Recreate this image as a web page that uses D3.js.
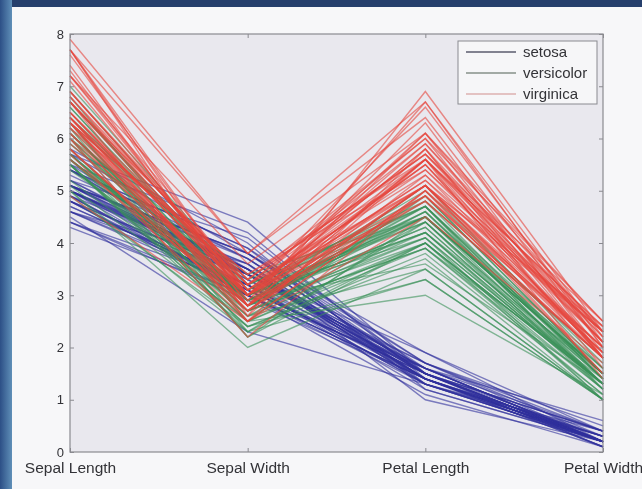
<!DOCTYPE html>
<html>
<head>
<meta charset="utf-8">
<script src="https://cdn.jsdelivr.net/npm/d3@7/dist/d3.min.js"></script>
<style>
  body { margin: 0; background: #f7f7f9; }
  svg { display: block; font-family: "Liberation Sans", Arial, sans-serif; }
</style>
</head>
<body>
<div id="chart"></div>
<script>

    // iris measurements: sepal length, sepal width, petal length, petal width
    var dimensions = ["Sepal Length", "Sepal Width", "Petal Length", "Petal Width"];
    var species = ["setosa", "versicolor", "virginica"];
    var yTicks = [0, 1, 2, 3, 4, 5, 6, 7, 8];

    var setosa = [
      [5.1,3.5,1.4,0.2],[4.9,3.0,1.4,0.2],[4.7,3.2,1.3,0.2],[4.6,3.1,1.5,0.2],[5.0,3.6,1.4,0.2],
      [5.4,3.9,1.7,0.4],[4.6,3.4,1.4,0.3],[5.0,3.4,1.5,0.2],[4.4,2.9,1.4,0.2],[4.9,3.1,1.5,0.1],
      [5.4,3.7,1.5,0.2],[4.8,3.4,1.6,0.2],[4.8,3.0,1.4,0.1],[4.3,3.0,1.1,0.1],[5.8,4.0,1.2,0.2],
      [5.7,4.4,1.5,0.4],[5.4,3.9,1.3,0.4],[5.1,3.5,1.4,0.3],[5.7,3.8,1.7,0.3],[5.1,3.8,1.5,0.3],
      [5.4,3.4,1.7,0.2],[5.1,3.7,1.5,0.4],[4.6,3.6,1.0,0.2],[5.1,3.3,1.7,0.5],[4.8,3.4,1.9,0.2],
      [5.0,3.0,1.6,0.2],[5.0,3.4,1.6,0.4],[5.2,3.5,1.5,0.2],[5.2,3.4,1.4,0.2],[4.7,3.2,1.6,0.2],
      [4.8,3.1,1.6,0.2],[5.4,3.4,1.5,0.4],[5.2,4.1,1.5,0.1],[5.5,4.2,1.4,0.2],[4.9,3.1,1.5,0.2],
      [5.0,3.2,1.2,0.2],[5.5,3.5,1.3,0.2],[4.9,3.6,1.4,0.1],[4.4,3.0,1.3,0.2],[5.1,3.4,1.5,0.2],
      [5.0,3.5,1.3,0.3],[4.5,2.3,1.3,0.3],[4.4,3.2,1.3,0.2],[5.0,3.5,1.6,0.6],[5.1,3.8,1.9,0.4],
      [4.8,3.0,1.4,0.3],[5.1,3.8,1.6,0.2],[4.6,3.2,1.4,0.2],[5.3,3.7,1.5,0.2],[5.0,3.3,1.4,0.2]
    ];

    var versicolor = [
      [7.0,3.2,4.7,1.4],[6.4,3.2,4.5,1.5],[6.9,3.1,4.9,1.5],[5.5,2.3,4.0,1.3],[6.5,2.8,4.6,1.5],
      [5.7,2.8,4.5,1.3],[6.3,3.3,4.7,1.6],[4.9,2.4,3.3,1.0],[6.6,2.9,4.6,1.3],[5.2,2.7,3.9,1.4],
      [5.0,2.0,3.5,1.0],[5.9,3.0,4.2,1.5],[6.0,2.2,4.0,1.0],[6.1,2.9,4.7,1.4],[5.6,2.9,3.6,1.3],
      [6.7,3.1,4.4,1.4],[5.6,3.0,4.5,1.5],[5.8,2.7,4.1,1.0],[6.2,2.2,4.5,1.5],[5.6,2.5,3.9,1.1],
      [5.9,3.2,4.8,1.8],[6.1,2.8,4.0,1.3],[6.3,2.5,4.9,1.5],[6.1,2.8,4.7,1.2],[6.4,2.9,4.3,1.3],
      [6.6,3.0,4.4,1.4],[6.8,2.8,4.8,1.4],[6.7,3.0,5.0,1.7],[6.0,2.9,4.5,1.5],[5.7,2.6,3.5,1.0],
      [5.5,2.4,3.8,1.1],[5.5,2.4,3.7,1.0],[5.8,2.7,3.9,1.2],[6.0,2.7,5.1,1.6],[5.4,3.0,4.5,1.5],
      [6.0,3.4,4.5,1.6],[6.7,3.1,4.7,1.5],[6.3,2.3,4.4,1.3],[5.6,3.0,4.1,1.3],[5.5,2.5,4.0,1.3],
      [5.5,2.6,4.4,1.2],[6.1,3.0,4.6,1.4],[5.8,2.6,4.0,1.2],[5.0,2.3,3.3,1.0],[5.6,2.7,4.2,1.3],
      [5.7,3.0,4.2,1.2],[5.7,2.9,4.2,1.3],[6.2,2.9,4.3,1.3],[5.1,2.5,3.0,1.1],[5.7,2.8,4.1,1.3]
    ];

    var virginica = [
      [6.3,3.3,6.0,2.5],[5.8,2.7,5.1,1.9],[7.1,3.0,5.9,2.1],[6.3,2.9,5.6,1.8],[6.5,3.0,5.8,2.2],
      [7.6,3.0,6.6,2.1],[4.9,2.5,4.5,1.7],[7.3,2.9,6.3,1.8],[6.7,2.5,5.8,1.8],[7.2,3.6,6.1,2.5],
      [6.5,3.2,5.1,2.0],[6.4,2.7,5.3,1.9],[6.8,3.0,5.5,2.1],[5.7,2.5,5.0,2.0],[5.8,2.8,5.1,2.4],
      [6.4,3.2,5.3,2.3],[6.5,3.0,5.5,1.8],[7.7,3.8,6.7,2.2],[7.7,2.6,6.9,2.3],[6.0,2.2,5.0,1.5],
      [6.9,3.2,5.7,2.3],[5.6,2.8,4.9,2.0],[7.7,2.8,6.7,2.0],[6.3,2.7,4.9,1.8],[6.7,3.3,5.7,2.1],
      [7.2,3.2,6.0,1.8],[6.2,2.8,4.8,1.8],[6.1,3.0,4.9,1.8],[6.4,2.8,5.6,2.1],[7.2,3.0,5.8,1.6],
      [7.4,2.8,6.1,1.9],[7.9,3.8,6.4,2.0],[6.4,2.8,5.6,2.2],[6.3,2.8,5.1,1.5],[6.1,2.6,5.6,1.4],
      [7.7,3.0,6.1,2.3],[6.3,3.4,5.6,2.4],[6.4,3.1,5.5,1.8],[6.0,3.0,4.8,1.8],[6.9,3.1,5.4,2.1],
      [6.7,3.1,5.6,2.4],[6.9,3.1,5.1,2.3],[5.8,2.7,5.1,1.9],[6.8,3.2,5.9,2.3],[6.7,3.3,5.7,2.5],
      [6.7,3.0,5.2,2.3],[6.3,2.5,5.0,1.9],[6.5,3.0,5.2,2.0],[6.2,3.4,5.4,2.3],[5.9,3.0,5.1,1.8]
    ];

    var groups = [setosa, versicolor, virginica];
    var lineColors = ["#30319c", "#3a9158", "#e6463e"];
    var legendColors = ["#5a5b6e", "#86918a", "#dcb0b0"];

    //=========================================================================
    // Set Dimensions
    //=========================================================================
    var width = 642, height = 489;
    var plot = { left: 70, right: 603, top: 34, bottom: 452 };

    var svg = d3.select("#chart")
      .append("svg")
      .attr("width", width)
      .attr("height", height);

    var defs = svg.append("defs");
    defs.append("filter")
      .attr("id", "soft")
      .append("feGaussianBlur")
      .attr("stdDeviation", 0.75);
    var grad = defs.append("linearGradient")
      .attr("id", "frame")
      .attr("x1", 0).attr("x2", 1).attr("y1", 0).attr("y2", 0);
    grad.append("stop").attr("offset", "0%").attr("stop-color", "#2c4f86");
    grad.append("stop").attr("offset", "100%").attr("stop-color", "#5f8fb8");

    // screen frame (top and left bands)
    svg.append("rect").attr("x", 0).attr("y", 0).attr("width", width).attr("height", 7).attr("fill", "#263f6c");
    svg.append("rect").attr("x", 0).attr("y", 0).attr("width", 12).attr("height", height).attr("fill", "url(#frame)");

    var g = svg.append("g").attr("filter", "url(#soft)");

    var x = d3.scalePoint()
      .domain(dimensions)
      .range([plot.left, plot.right]);

    var y = d3.scaleLinear()
      .domain([0, 8])
      .range([plot.bottom, plot.top]);

    g.append("rect")
      .attr("x", plot.left)
      .attr("y", plot.top)
      .attr("width", plot.right - plot.left)
      .attr("height", plot.bottom - plot.top)
      .attr("fill", "#e9e8ee");

    //=========================================================================
    // Lines
    //=========================================================================
    var line = d3.line()
      .x(function(d, i) { return x(dimensions[i]); })
      .y(function(d) { return y(d); });

    groups.forEach(function(rows, k) {
      g.append("g")
        .selectAll("path")
        .data(rows)
        .enter()
        .append("path")
        .attr("d", line)
        .attr("fill", "none")
        .attr("stroke", lineColors[k])
        .attr("stroke-width", 1.4)
        .attr("stroke-opacity", 0.6);
    });

    //=========================================================================
    // Axes (MATLAB style box, ticks inward)
    //=========================================================================
    var styleAxis = function(sel) {
      sel.select(".domain").remove();
      sel.selectAll(".tick line").attr("stroke", "#8a8a90");
      sel.selectAll("text").attr("fill", "#333337");
    };

    g.append("g")
      .attr("transform", "translate(" + plot.left + ",0)")
      .call(d3.axisLeft(y).tickValues(yTicks).tickFormat(d3.format("d")).tickSize(-4).tickPadding(6))
      .call(styleAxis)
      .selectAll("text").attr("font-size", 13);

    g.append("g")
      .attr("transform", "translate(" + plot.right + ",0)")
      .call(d3.axisRight(y).tickValues(yTicks).tickSize(-4).tickFormat(""))
      .call(styleAxis);

    g.append("g")
      .attr("transform", "translate(0," + plot.bottom + ")")
      .call(d3.axisBottom(x).tickSize(-4).tickPadding(10))
      .call(styleAxis)
      .selectAll("text").attr("font-size", 15.5);

    g.append("g")
      .attr("transform", "translate(0," + plot.top + ")")
      .call(d3.axisTop(x).tickSize(-4).tickFormat(""))
      .call(styleAxis);

    g.append("rect")
      .attr("x", plot.left)
      .attr("y", plot.top)
      .attr("width", plot.right - plot.left)
      .attr("height", plot.bottom - plot.top)
      .attr("fill", "none")
      .attr("stroke", "#8a8a90")
      .attr("stroke-width", 1.2);

    //=========================================================================
    // Legend
    //=========================================================================
    var legend = g.append("g").attr("transform", "translate(458,41)");
    legend.append("rect")
      .attr("width", 139)
      .attr("height", 63)
      .attr("fill", "#f6f6f8")
      .attr("stroke", "#8a8a90");

    var items = legend.selectAll(".item")
      .data(species)
      .enter()
      .append("g")
      .attr("transform", function(d, i) { return "translate(0," + (11 + i * 21) + ")"; });

    items.append("line")
      .attr("x1", 8).attr("x2", 58)
      .attr("stroke", function(d, i) { return legendColors[i]; })
      .attr("stroke-width", 1.3);

    items.append("text")
      .attr("x", 65)
      .attr("dy", "0.35em")
      .attr("font-size", 15)
      .attr("fill", "#333337")
      .text(function(d) { return d; });

</script>
</body>
</html>
